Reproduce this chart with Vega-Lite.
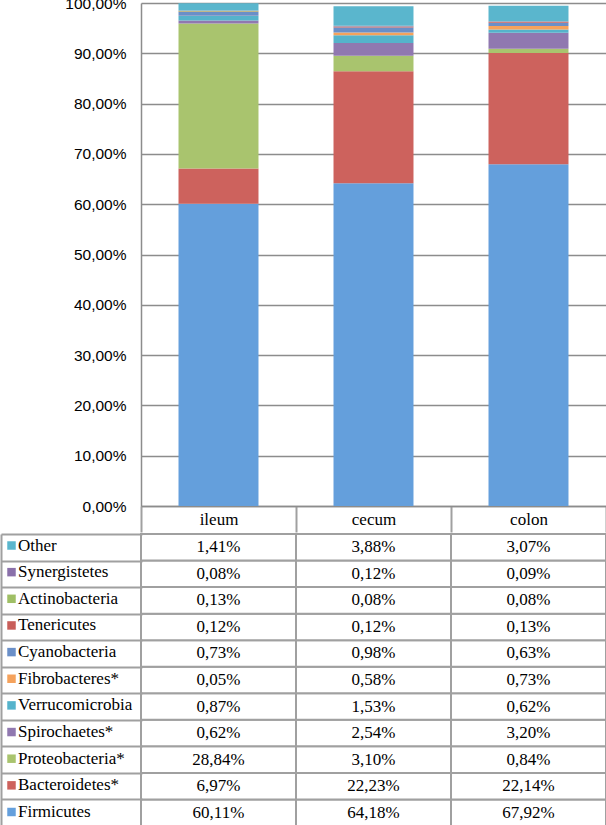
{
  "$schema": "https://vega.github.io/schema/vega-lite/v6.json",
  "padding": {"left": 0, "right": 0, "top": -4, "bottom": 0},
  "background": "white",
  "config": {
    "locale": {"number": {"decimal": ",", "thousands": ".", "grouping": [3], "currency": ["", "%"]}},
    "view": {"stroke": null}
  },
  "datasets": {
    "phyla": [
      {"site": "ileum", "taxon": "Firmicutes", "value": 60.11},
      {"site": "cecum", "taxon": "Firmicutes", "value": 64.18},
      {"site": "colon", "taxon": "Firmicutes", "value": 67.92},
      {"site": "ileum", "taxon": "Bacteroidetes*", "value": 6.97},
      {"site": "cecum", "taxon": "Bacteroidetes*", "value": 22.23},
      {"site": "colon", "taxon": "Bacteroidetes*", "value": 22.14},
      {"site": "ileum", "taxon": "Proteobacteria*", "value": 28.84},
      {"site": "cecum", "taxon": "Proteobacteria*", "value": 3.10},
      {"site": "colon", "taxon": "Proteobacteria*", "value": 0.84},
      {"site": "ileum", "taxon": "Spirochaetes*", "value": 0.62},
      {"site": "cecum", "taxon": "Spirochaetes*", "value": 2.54},
      {"site": "colon", "taxon": "Spirochaetes*", "value": 3.20},
      {"site": "ileum", "taxon": "Verrucomicrobia", "value": 0.87},
      {"site": "cecum", "taxon": "Verrucomicrobia", "value": 1.53},
      {"site": "colon", "taxon": "Verrucomicrobia", "value": 0.62},
      {"site": "ileum", "taxon": "Fibrobacteres*", "value": 0.05},
      {"site": "cecum", "taxon": "Fibrobacteres*", "value": 0.58},
      {"site": "colon", "taxon": "Fibrobacteres*", "value": 0.73},
      {"site": "ileum", "taxon": "Cyanobacteria", "value": 0.73},
      {"site": "cecum", "taxon": "Cyanobacteria", "value": 0.98},
      {"site": "colon", "taxon": "Cyanobacteria", "value": 0.63},
      {"site": "ileum", "taxon": "Tenericutes", "value": 0.12},
      {"site": "cecum", "taxon": "Tenericutes", "value": 0.12},
      {"site": "colon", "taxon": "Tenericutes", "value": 0.13},
      {"site": "ileum", "taxon": "Actinobacteria", "value": 0.13},
      {"site": "cecum", "taxon": "Actinobacteria", "value": 0.08},
      {"site": "colon", "taxon": "Actinobacteria", "value": 0.08},
      {"site": "ileum", "taxon": "Synergistetes", "value": 0.08},
      {"site": "cecum", "taxon": "Synergistetes", "value": 0.12},
      {"site": "colon", "taxon": "Synergistetes", "value": 0.09},
      {"site": "ileum", "taxon": "Other", "value": 1.41},
      {"site": "cecum", "taxon": "Other", "value": 3.88},
      {"site": "colon", "taxon": "Other", "value": 3.07}
    ]
  },
  "data": {"name": "phyla"},
  "spacing": 0,
  "vconcat": [
    {
      "width": 465,
      "height": 503,
      "transform": [
        {"calculate": "indexof(['Firmicutes', 'Bacteroidetes*', 'Proteobacteria*', 'Spirochaetes*', 'Verrucomicrobia', 'Fibrobacteres*', 'Cyanobacteria', 'Tenericutes', 'Actinobacteria', 'Synergistetes', 'Other'], datum.taxon)", "as": "stackRank"}
      ],
      "mark": {"type": "bar", "width": {"band": 0.516}},
      "encoding": {
        "x": {
          "field": "site", "type": "nominal", "sort": ["ileum", "cecum", "colon"],
          "scale": {"paddingInner": 0, "paddingOuter": 0},
          "axis": {
            "title": null, "orient": "bottom", "labelAngle": 0,
            "labelFont": "Liberation Serif", "labelFontSize": 17, "labelColor": "#000000",
            "labelBaseline": "middle", "labelPadding": -13,
            "tickBand": "extent", "tickSize": 26, "tickColor": "#a0a0a0", "tickWidth": 2,
            "domainColor": "#8c8c8c", "domainWidth": 1.5,
            "grid": false, "minExtent": 26, "maxExtent": 26
          }
        },
        "y": {
          "field": "value", "type": "quantitative", "stack": "zero",
          "scale": {"domain": [0, 100], "nice": false},
          "axis": {
            "title": null, "values": [0, 10, 20, 30, 40, 50, 60, 70, 80, 90, 100],
            "format": "$.2f",
            "labelFont": "Liberation Sans", "labelFontSize": 15.5, "labelColor": "#000000",
            "labelPadding": 15, "ticks": false, "tickSize": 0,
            "domainColor": "#8c8c8c", "domainWidth": 1.5,
            "gridColor": "#8c8c8c", "gridWidth": 1.5,
            "minExtent": 141, "maxExtent": 141
          }
        },
        "order": {"field": "stackRank", "type": "quantitative", "sort": "ascending"},
        "color": {
          "field": "taxon", "type": "nominal",
          "scale": {
            "domain": ["Firmicutes", "Bacteroidetes*", "Proteobacteria*", "Spirochaetes*", "Verrucomicrobia", "Fibrobacteres*", "Cyanobacteria", "Tenericutes", "Actinobacteria", "Synergistetes", "Other"],
            "range": ["#649fdc", "#cd625d", "#a9c46e", "#9078b0", "#55b3cb", "#f5a25c", "#6a8fc8", "#c85e5a", "#9fbf65", "#8a70aa", "#5ab6cd"]
          },
          "legend": {
            "orient": "none", "legendX": -138, "legendY": 534, "title": null,
            "values": ["Other", "Synergistetes", "Actinobacteria", "Tenericutes", "Cyanobacteria", "Fibrobacteres*", "Verrucomicrobia", "Spirochaetes*", "Proteobacteria*", "Bacteroidetes*", "Firmicutes"],
            "symbolType": "square", "symbolSize": 72, "symbolStrokeWidth": 0, "symbolOpacity": 1,
            "labelFont": "Liberation Serif", "labelFontSize": 17, "labelColor": "#000000",
            "labelOffset": -2, "rowPadding": 8.65, "padding": 0, "labelLimit": 200
          }
        }
      }
    },
    {
      "width": 465,
      "height": 292,
      "encoding": {
        "x": {
          "field": "site", "type": "nominal", "sort": ["ileum", "cecum", "colon"],
          "scale": {"paddingInner": 0, "paddingOuter": 0}, "axis": null
        },
        "y": {
          "field": "taxon", "type": "nominal",
          "sort": ["Other", "Synergistetes", "Actinobacteria", "Tenericutes", "Cyanobacteria", "Fibrobacteres*", "Verrucomicrobia", "Spirochaetes*", "Proteobacteria*", "Bacteroidetes*", "Firmicutes"],
          "scale": {"paddingInner": 0, "paddingOuter": 0},
          "axis": {
            "title": null, "orient": "left", "offset": 140, "labels": false,
            "ticks": true, "tickSize": -141, "tickBand": "extent",
            "tickColor": "#a0a0a0", "tickWidth": 2,
            "domain": true, "domainColor": "#a0a0a0", "domainWidth": 2, "grid": false
          }
        }
      },
      "layer": [
        {"mark": {"type": "rect", "fill": "white", "stroke": "#a0a0a0", "strokeWidth": 2}},
        {
          "mark": {"type": "text", "font": "Liberation Serif", "fontSize": 17, "color": "#000000", "baseline": "middle"},
          "encoding": {"text": {"field": "value", "type": "quantitative", "format": "$.2f"}}
        }
      ]
    }
  ]
}
